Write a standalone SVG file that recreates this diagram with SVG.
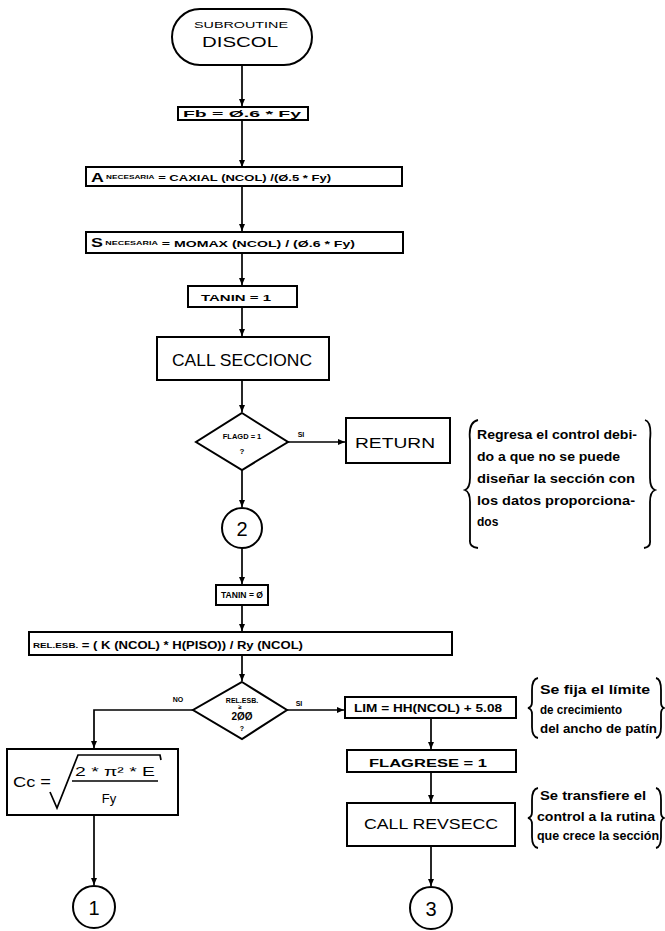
<svg xmlns="http://www.w3.org/2000/svg" width="665" height="931" viewBox="0 0 665 931">
<defs>
<style>
.box{fill:none;stroke:#000;stroke-width:2}
.ln{fill:none;stroke:#000;stroke-width:1.7}
.t{font-family:"Liberation Sans",Arial,sans-serif;fill:#000;text-anchor:middle;dominant-baseline:central}
.n{font-family:"Liberation Sans",Arial,sans-serif;fill:#000;font-weight:bold;font-size:12px;dominant-baseline:central}
.br{fill:none;stroke:#000;stroke-width:1.8}
</style>
<marker id="ah" markerWidth="8" markerHeight="8" refX="7" refY="4" orient="auto" markerUnits="userSpaceOnUse">
<path d="M0,1 L7,4 L0,7 Z" fill="#000"/>
</marker>
</defs>
<rect width="665" height="931" fill="#fff"/>

<g id="connectors">
<path class="ln" d="M242,65 V106" marker-end="url(#ah)"/>
<path class="ln" d="M242,120 V167" marker-end="url(#ah)"/>
<path class="ln" d="M242,186 V231" marker-end="url(#ah)"/>
<path class="ln" d="M242,253 V285" marker-end="url(#ah)"/>
<path class="ln" d="M242,307 V336" marker-end="url(#ah)"/>
<path class="ln" d="M242,380 V412" marker-end="url(#ah)"/>
<path class="ln" d="M288,442 H345" marker-end="url(#ah)"/>
<path class="ln" d="M242,470 V507" marker-end="url(#ah)"/>
<path class="ln" d="M242,548 V584" marker-end="url(#ah)"/>
<path class="ln" d="M242,605 V631" marker-end="url(#ah)"/>
<path class="ln" d="M242,655 V681" marker-end="url(#ah)"/>
<path class="ln" d="M193,710 H94 V748" marker-end="url(#ah)"/>
<path class="ln" d="M94,815 V885" marker-end="url(#ah)"/>
<path class="ln" d="M287,710 H344" marker-end="url(#ah)"/>
<path class="ln" d="M431,718 V749" marker-end="url(#ah)"/>
<path class="ln" d="M431,772 V802" marker-end="url(#ah)"/>
<path class="ln" d="M431,846 V886" marker-end="url(#ah)"/>
<text class="t" x="301" y="434" font-size="7" font-weight="bold">SI</text>
<text class="t" x="178" y="699" font-size="7" font-weight="bold">NO</text>
<text class="t" x="299" y="703" font-size="7" font-weight="bold">SI</text>
</g>

<g id="start">
<rect class="box" x="172" y="9" width="140" height="56" rx="28"/>
<text class="t" x="241" y="25" font-size="9" textLength="94" lengthAdjust="spacingAndGlyphs">SUBROUTINE</text>
<text class="t" x="240" y="42" font-size="14" textLength="76" lengthAdjust="spacingAndGlyphs">DISCOL</text>
</g>

<g id="fb">
<rect class="box" x="178" y="107" width="130" height="13"/>
<text class="t" x="242" y="114" font-size="9" font-weight="bold" textLength="118" lengthAdjust="spacingAndGlyphs">Fb = Ø.6 * Fy</text>
</g>

<g id="anec">
<rect class="box" x="86" y="167" width="316" height="19"/>
<text class="t" x="211" y="177" font-size="9.5" font-weight="bold" textLength="240" lengthAdjust="spacingAndGlyphs"><tspan font-size="13">A</tspan><tspan font-size="6"> NECESARIA</tspan> = CAXIAL (NCOL) /(Ø.5 * Fy)</text>
</g>

<g id="snec">
<rect class="box" x="86" y="232" width="317" height="21"/>
<text class="t" x="223" y="243" font-size="9.5" font-weight="bold" textLength="264" lengthAdjust="spacingAndGlyphs"><tspan font-size="12">S</tspan><tspan font-size="6"> NECESARIA</tspan>  =  MOMAX (NCOL) / (Ø.6 * Fy)</text>
</g>

<g id="tanin1">
<rect class="box" x="188" y="286" width="109" height="21"/>
<text class="t" x="236" y="297" font-size="9.5" font-weight="bold" textLength="70" lengthAdjust="spacingAndGlyphs">TANIN = 1</text>
</g>

<g id="callseccionc">
<rect class="box" x="157" y="337" width="172" height="43"/>
<text class="t" x="242" y="360" font-size="17" textLength="140" lengthAdjust="spacingAndGlyphs">CALL SECCIONC</text>
</g>

<g id="flagd">
<path class="box" d="M242,413 L288,442 L242,470 L196,442 Z"/>
<text class="t" x="242" y="436" font-size="7.5" font-weight="bold">FLAGD = 1</text>
<text class="t" x="242" y="451" font-size="8" font-weight="bold">?</text>
</g>

<g id="return">
<rect class="box" x="346" y="418" width="104" height="45"/>
<text class="t" x="395" y="442" font-size="15" textLength="80" lengthAdjust="spacingAndGlyphs">RETURN</text>
</g>

<g id="note1">
<path class="br" d="M478,420 Q468,422 470,440 L470,478 Q470,488 465,490 Q470,492 470,502 L470,540 Q469,547 478,548"/>
<path class="br" d="M645,420 Q652,422 650,440 L650,478 Q650,488 655,490 Q650,492 650,502 L650,540 Q651,547 644,548"/>
<text class="n" x="477" y="435" textLength="160" lengthAdjust="spacingAndGlyphs">Regresa el control debi-</text>
<text class="n" x="477" y="457" textLength="143" lengthAdjust="spacingAndGlyphs">do a que no se puede</text>
<text class="n" x="477" y="479" textLength="158" lengthAdjust="spacingAndGlyphs">diseñar la sección con</text>
<text class="n" x="477" y="501" textLength="158" lengthAdjust="spacingAndGlyphs">los datos proporciona-</text>
<text class="n" x="477" y="522">dos</text>
</g>

<g id="conn2">
<circle class="box" cx="242" cy="528" r="20"/>
<text class="t" x="242" y="529" font-size="20">2</text>
</g>

<g id="tanin0">
<rect class="box" x="216" y="585" width="52" height="20"/>
<text class="t" x="242" y="595" font-size="8.5" font-weight="bold" textLength="42" lengthAdjust="spacingAndGlyphs">TANIN = Ø</text>
</g>

<g id="relesb">
<rect class="box" x="29" y="632" width="423" height="23"/>
<text class="t" x="168" y="645" font-size="10" font-weight="bold" textLength="270" lengthAdjust="spacingAndGlyphs"><tspan font-size="7.5">REL.ESB.</tspan> = ( K (NCOL) * H(PISO)) / Ry (NCOL)</text>
</g>

<g id="relcheck">
<path class="box" d="M242,682 L287,710 L242,739 L193,710 Z"/>
<text class="t" x="242" y="700" font-size="7" font-weight="bold">REL.ESB.</text>
<text class="t" x="240" y="707" font-size="6" font-weight="bold">≥</text>
<text class="t" x="242" y="716" font-size="10" font-weight="bold">2ØØ</text>
<text class="t" x="242" y="728" font-size="7" font-weight="bold">?</text>
</g>

<g id="cc">
<rect class="box" x="7" y="749" width="171" height="66"/>
<text class="t" x="32" y="782" font-size="14" textLength="38" lengthAdjust="spacingAndGlyphs">Cc =</text>
<path class="ln" d="M50,792 L57,808 L78,755 L160,755 L161,760"/>
<path class="ln" d="M72,781 H158"/>
<text class="t" x="115" y="772" font-size="12" textLength="80" lengthAdjust="spacingAndGlyphs">2 * π² * E</text>
<text class="t" x="109" y="798" font-size="13">Fy</text>
</g>

<g id="conn1">
<circle class="box" cx="94" cy="907" r="21"/>
<text class="t" x="94" y="908" font-size="20">1</text>
</g>

<g id="lim">
<rect class="box" x="345" y="697" width="171" height="21"/>
<text class="t" x="428" y="708" font-size="10" font-weight="bold" textLength="148" lengthAdjust="spacingAndGlyphs">LIM = HH(NCOL) + 5.08</text>
</g>

<g id="note2">
<path class="br" d="M538,678 Q532,679 532,690 L532,702 Q532,707 528,708 Q532,709 532,714 L532,727 Q532,737 538,738"/>
<path class="br" d="M656,678 Q661,679 661,690 L661,702 Q661,707 664,708 Q661,709 661,714 L661,727 Q661,737 656,738"/>
<text class="n" x="540" y="690" textLength="110" lengthAdjust="spacingAndGlyphs">Se fija el límite</text>
<text class="n" x="540" y="710" textLength="82" lengthAdjust="spacingAndGlyphs">de crecimiento</text>
<text class="n" x="540" y="729" textLength="117" lengthAdjust="spacingAndGlyphs">del ancho de patín</text>
</g>

<g id="flagrese">
<rect class="box" x="347" y="750" width="169" height="22"/>
<text class="t" x="428" y="763" font-size="10.5" font-weight="bold" textLength="118" lengthAdjust="spacingAndGlyphs">FLAGRESE = 1</text>
</g>

<g id="callrevsecc">
<rect class="box" x="347" y="803" width="168" height="43"/>
<text class="t" x="431" y="824" font-size="14" textLength="134" lengthAdjust="spacingAndGlyphs">CALL REVSECC</text>
</g>

<g id="note3">
<path class="br" d="M538,788 Q532,789 532,800 L532,812 Q532,817 528,818 Q532,819 532,824 L532,837 Q532,847 538,848"/>
<path class="br" d="M656,788 Q661,789 661,800 L661,812 Q661,817 664,818 Q661,819 661,824 L661,837 Q661,847 656,848"/>
<text class="n" x="540" y="796" textLength="106" lengthAdjust="spacingAndGlyphs">Se transfiere el</text>
<text class="n" x="537" y="817" textLength="118" lengthAdjust="spacingAndGlyphs">control a la rutina</text>
<text class="n" x="537" y="836" textLength="122" lengthAdjust="spacingAndGlyphs">que crece la sección</text>
</g>

<g id="conn3">
<circle class="box" cx="431" cy="908" r="21"/>
<text class="t" x="431" y="909" font-size="20">3</text>
</g>
</svg>
